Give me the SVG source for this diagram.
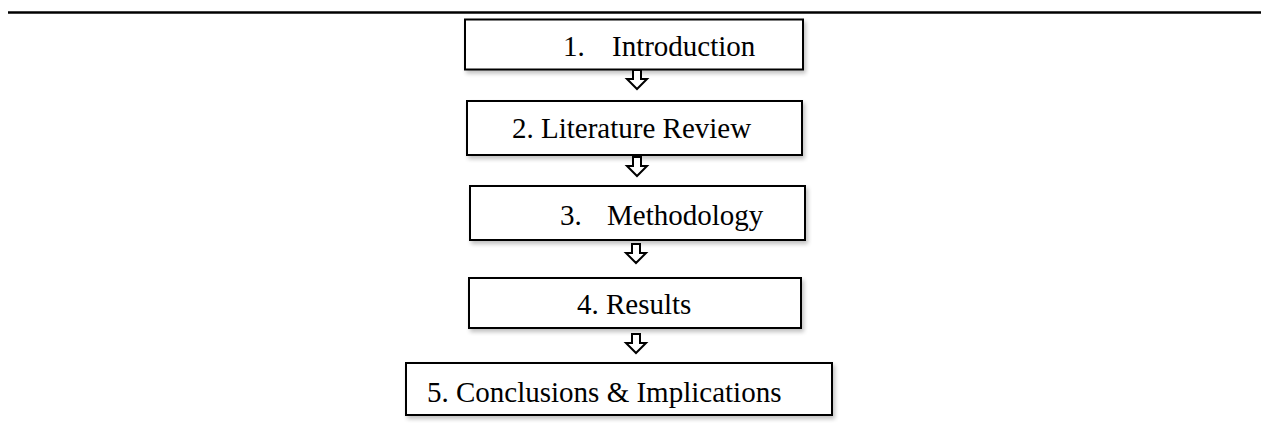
<svg xmlns="http://www.w3.org/2000/svg" width="1261" height="426" viewBox="0 0 1261 426">
  <style>
    .box { fill: #ffffff; stroke: #000000; stroke-width: 2; filter: url(#shadow); }
    .label { font-family: "Liberation Serif", "Times New Roman", serif; font-size: 29px; fill: #000000; }
    .arrow { fill: #ffffff; stroke: #000000; stroke-width: 2; stroke-linejoin: miter; }
    .rule { stroke: #000000; stroke-width: 2.5; }
  </style>
  <defs>
    <filter id="shadow" x="-5%" y="-20%" width="115%" height="160%">
      <feGaussianBlur in="SourceAlpha" stdDeviation="2"/>
      <feOffset dx="2" dy="3" result="blur"/>
      <feComponentTransfer><feFuncA type="linear" slope="0.25"/></feComponentTransfer>
      <feMerge><feMergeNode/><feMergeNode in="SourceGraphic"/></feMerge>
    </filter>
    <!-- hollow down arrow, origin at top centre -->
    <path id="downArrow" class="arrow" d="M -4,0 H 4 V 9 H 10 L 0,19 L -10,9 H -4 Z"/>
  </defs>

  <rect width="1261" height="426" fill="#ffffff"/>

  <!-- top rule -->
  <line class="rule" x1="8" y1="12.5" x2="1261" y2="12.5"/>

  <g id="node-introduction">
    <rect class="box" x="465" y="19.5" width="338" height="50"/>
    <text class="label" x="563" y="56">1.</text>
    <text class="label" x="612" y="56">Introduction</text>
  </g>

  <g id="node-literature-review">
    <rect class="box" x="467" y="101" width="335" height="54"/>
    <text class="label" x="512" y="138">2. Literature Review</text>
  </g>

  <g id="node-methodology">
    <rect class="box" x="470" y="186" width="335" height="54"/>
    <text class="label" x="560" y="225">3.</text>
    <text class="label" x="607" y="225">Methodology</text>
  </g>

  <g id="node-results">
    <rect class="box" x="469" y="278" width="332" height="50"/>
    <text class="label" x="577" y="314">4. Results</text>
  </g>

  <g id="node-conclusions">
    <rect class="box" x="406" y="363" width="426" height="52"/>
    <text class="label" x="427" y="402">5. Conclusions &amp; Implications</text>
  </g>

  <g id="connectors">
    <use href="#downArrow" x="637" y="70"/>
    <use href="#downArrow" x="637" y="157"/>
    <use href="#downArrow" x="636" y="244"/>
    <use href="#downArrow" x="636" y="334"/>
  </g>
</svg>
